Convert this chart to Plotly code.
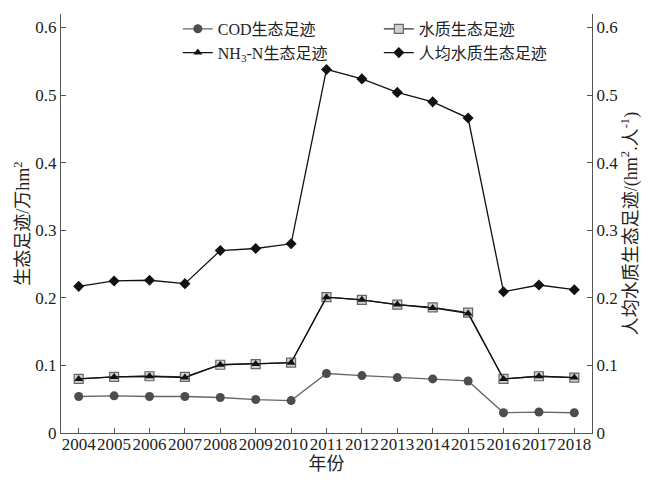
"""Water-quality ecological footprint chart, 2004-2018."""

import plotly.graph_objects as go

years = list(range(2004, 2019))

cod_fp = [0.054, 0.055, 0.054, 0.054, 0.0525, 0.0495, 0.048, 0.088,
          0.085, 0.082, 0.080, 0.077, 0.030, 0.031, 0.030]
water_fp = [0.080, 0.083, 0.084, 0.083, 0.101, 0.102, 0.104, 0.201,
            0.197, 0.190, 0.186, 0.178, 0.080, 0.084, 0.082]
nh3_fp = [0.080, 0.083, 0.084, 0.082, 0.101, 0.102, 0.104, 0.201,
          0.197, 0.190, 0.185, 0.177, 0.080, 0.084, 0.082]
per_capita_fp = [0.217, 0.225, 0.226, 0.221, 0.270, 0.273, 0.280, 0.538,
                 0.524, 0.504, 0.490, 0.466, 0.209, 0.219, 0.212]

y_ticks = [0, 0.1, 0.2, 0.3, 0.4, 0.5, 0.6]
y_tick_text = ["0", "0.1", "0.2", "0.3", "0.4", "0.5", "0.6"]

FONT = "'Liberation Serif', 'Times New Roman', 'Noto Sans CJK SC', serif"
AXIS_COLOR = "#555555"

fig = go.Figure()

fig.add_trace(go.Scatter(
    x=years, y=cod_fp, name="COD生态足迹", mode="lines+markers",
    line=dict(color="#666666", width=1.3),
    marker=dict(symbol="circle", size=9, color="#4d4d4d"),
))
fig.add_trace(go.Scatter(
    x=years, y=water_fp, name="水质生态足迹", mode="lines+markers",
    line=dict(color="#333333", width=1.3),
    marker=dict(symbol="square", size=9, color="#d0d0d0",
                line=dict(color="#666666", width=1.2)),
))
fig.add_trace(go.Scatter(
    x=years, y=nh3_fp, name="NH<sub>3</sub>-N生态足迹", mode="lines+markers",
    line=dict(color="#111111", width=1.3),
    marker=dict(symbol="triangle-up", size=8, color="#111111"),
))
fig.add_trace(go.Scatter(
    x=years, y=per_capita_fp, name="人均水质生态足迹", mode="lines+markers",
    yaxis="y2",
    line=dict(color="#111111", width=1.3),
    marker=dict(symbol="diamond", size=8.5, color="#111111"),
))

axis_common = dict(
    showline=True, linecolor=AXIS_COLOR, linewidth=1.2,
    ticks="inside", ticklen=5, tickcolor=AXIS_COLOR,
    showgrid=False, zeroline=False, automargin=False,
    tickfont=dict(size=17, color="#222222"),
)

# the page body keeps an 8px margin, so the figure is sized to fit inside it
fig.update_layout(
    width=634, height=473,
    font=dict(family=FONT, size=17, color="#222222"),
    plot_bgcolor="white", paper_bgcolor="white",
    margin=dict(l=53, r=50, t=6, b=48, autoexpand=False),
    xaxis=dict(
        range=[2003.5, 2018.5], tickvals=years, tickangle=0,
        ticklabelstandoff=-5,
        title=dict(text="年份", font=dict(size=18), standoff=4),
        **axis_common,
    ),
    yaxis=dict(
        range=[0, 0.62], tickvals=y_ticks, ticktext=y_tick_text,
        title=dict(text="生态足迹/万hm<sup>2</sup>", font=dict(size=18), standoff=0),
        **axis_common,
    ),
    yaxis2=dict(
        range=[0, 0.62], tickvals=y_ticks, ticktext=y_tick_text,
        overlaying="y", side="right",
        title=dict(text="人均水质生态足迹/(hm<sup>2</sup>.人<sup>-1</sup>)",
                   font=dict(size=18), standoff=5),
        **axis_common,
    ),
    legend=dict(
        orientation="h", x=0.22, y=1.005, xanchor="left", yanchor="top",
        entrywidth=156, entrywidthmode="pixels",
        bgcolor="rgba(0,0,0,0)", font=dict(size=16),
        itemwidth=30, tracegroupgap=0,
    ),
)

fig.write_html("out.html")
